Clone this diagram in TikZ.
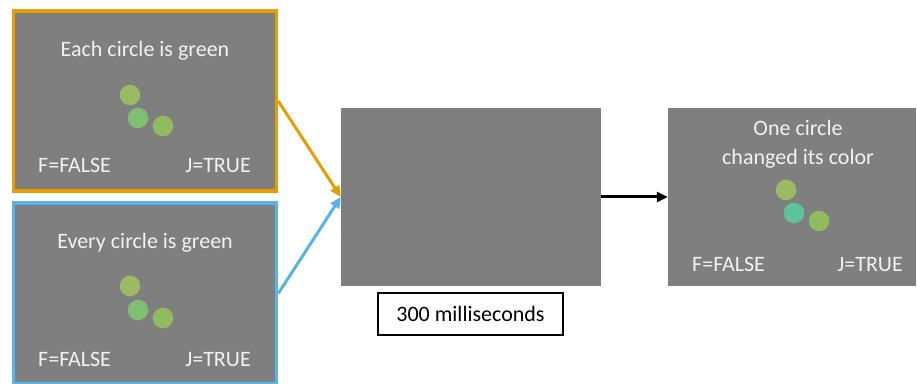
\documentclass[tikz,border=0pt]{standalone}
\usepackage{fontspec}
\setmainfont{Carlito}
\usetikzlibrary{arrows.meta}
\definecolor{screengray}{HTML}{7F7F7F}
\definecolor{lineorange}{HTML}{E69F00}
\definecolor{lineblue}{HTML}{56B4E9}
\definecolor{dotone}{HTML}{9BBB63}
\definecolor{dottwo}{HTML}{80BF70}
\definecolor{dotthree}{HTML}{8FBC60}
\definecolor{dotteal}{HTML}{5DC39B}
\tikzset{
    screen/.style={fill=screengray, inner sep=0pt},
    txt/.style={text=white!95!black, inner sep=0pt, font=\fontsize{22}{26}\selectfont},
    dot/.style={circle, inner sep=0pt, minimum size=20.6pt}
}
\begin{document}
\begin{tikzpicture}[x=1pt, y=1pt, >={Triangle[length=11pt,width=10pt]}]
        \useasboundingbox (0,0) rectangle (917,383);
        \node[screen, draw=lineorange, line width=3.5pt, minimum width=263pt, minimum height=180pt] (each) at (145,282) {};
        \node[screen, draw=lineblue, line width=3.5pt, minimum width=263pt, minimum height=181pt] (every) at (145,89.5) {};
        \node[screen, minimum width=260pt, minimum height=178pt] (blank) at (471,186) {};
        \node[screen, minimum width=248pt, minimum height=178pt] (changed) at (792,186) {};
        \node[draw=black, line width=1.3pt, minimum width=185pt, minimum height=42pt, inner sep=0pt, font=\fontsize{22}{26}\selectfont] (time) at (470.5,69) {300 milliseconds};
        \draw [->, lineorange, line width=3pt] (each.east) -- (blank.west);
        \draw [->, lineblue, line width=3pt] (every.east) -- (blank.west);
        \draw [->, black, line width=3pt] (blank.east) -- (changed.west);
        % top screen
        \node[txt, anchor=base] (eachtitle) at (145,326) {Each circle is green};
        \node[dot, fill=dotone] (eachdota) at (130,288) {};
        \node[dot, fill=dottwo] (eachdotb) at (138,265) {};
        \node[dot, fill=dotthree] (eachdotc) at (163,257) {};
        \node[txt, anchor=base west] (eachf) at (38,210) {F=FALSE};
        \node[txt, anchor=base east] (eachj) at (251,210) {J=TRUE};
        % bottom screen
        \node[txt, anchor=base] (everytitle) at (145,135) {Every circle is green};
        \node[dot, fill=dotone] (everydota) at (130,97) {};
        \node[dot, fill=dottwo] (everydotb) at (138,73) {};
        \node[dot, fill=dotthree] (everydotc) at (163,65) {};
        \node[txt, anchor=base west] (everyf) at (38,17) {F=FALSE};
        \node[txt, anchor=base east] (everyj) at (251,17) {J=TRUE};
        % test screen
        \node[txt, anchor=base] (changedtop) at (798,247) {One circle};
        \node[txt, anchor=base] (changedbottom) at (798,218) {changed its color};
        \node[dot, fill=dotone] (changeddota) at (786,193) {};
        \node[dot, fill=dotteal] (changeddotb) at (794,170) {};
        \node[dot, fill=dotthree] (changeddotc) at (819,162) {};
        \node[txt, anchor=base west] (changedf) at (692,112) {F=FALSE};
        \node[txt, anchor=base east] (changedj) at (903,112) {J=TRUE};
    \end{tikzpicture}
\end{document}
